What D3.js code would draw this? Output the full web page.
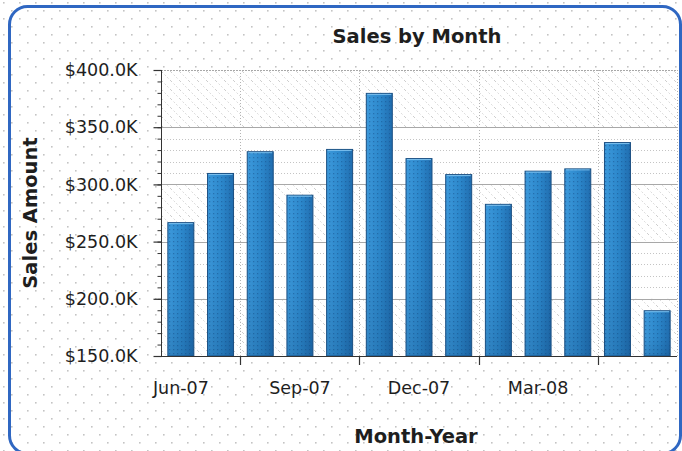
<!DOCTYPE html>
<html>
<head>
<meta charset="utf-8">
<script src="https://cdn.jsdelivr.net/npm/d3@7"></script>
<style>
  html, body { margin: 0; padding: 0; background: #fff; }
  svg { display: block; }
  text { font-family: "DejaVu Sans", Verdana, sans-serif; fill: #1e1e1e; }
</style>
</head>
<body>
<svg id="chart" width="682" height="451"></svg>
<script>
// Monthly sales, June 2007 – June 2008
const months = ["Jun-07","Jul-07","Aug-07","Sep-07","Oct-07","Nov-07","Dec-07",
                "Jan-08","Feb-08","Mar-08","Apr-08","May-08","Jun-08"];
const sales = [267000, 310000, 329000, 291000, 331000, 380000, 323000,
               309000, 283000, 312000, 314000, 337000, 190000];
const xTickLabels = ["Jun-07","Sep-07","Dec-07","Mar-08"];
const xTickMarks = ["Aug-07","Nov-07","Feb-08","May-08"];   // marks sit at the start of these months
const yMajorTicks = [150000, 200000, 250000, 300000, 350000, 400000];
const yMinorTicks = d3.range(150000, 400001, 10000);

const W = 682, H = 451;
const plot = { left: 161, right: 677, top: 70, bottom: 356 };

const svg = d3.select("#chart");
const defs = svg.append("defs");

// light dotted canvas texture
const dots = defs.append("pattern").attr("id", "bgDots")
  .attr("patternUnits", "userSpaceOnUse").attr("width", 16).attr("height", 16);
dots.append("rect").attr("x", 3).attr("y", 2).attr("width", 1.6).attr("height", 1.6).attr("fill", "#c4c4c4");
dots.append("rect").attr("x", 11).attr("y", 10).attr("width", 1.6).attr("height", 1.6).attr("fill", "#c4c4c4");

// diagonal hatch for alternating plot bands
const hatch = defs.append("pattern").attr("id", "hatch")
  .attr("patternUnits", "userSpaceOnUse").attr("width", 9).attr("height", 9);
hatch.append("path").attr("d", "M0,0 L9,9").attr("stroke", "#cdcdcd")
  .attr("stroke-width", 1).attr("stroke-dasharray", "1.4,2.4");

// bar shading
const barGrad = defs.append("linearGradient").attr("id", "barGrad")
  .attr("x1", 0).attr("x2", 1).attr("y1", 0).attr("y2", 0);
barGrad.append("stop").attr("offset", "0%").attr("stop-color", "#3d9adc");
barGrad.append("stop").attr("offset", "55%").attr("stop-color", "#2c88cc");
barGrad.append("stop").attr("offset", "100%").attr("stop-color", "#206daf");

const barShade = defs.append("linearGradient").attr("id", "barShade")
  .attr("x1", 0).attr("x2", 0).attr("y1", 0).attr("y2", 1);
barShade.append("stop").attr("offset", "0%").attr("stop-color", "#0a3a6a").attr("stop-opacity", 0);
barShade.append("stop").attr("offset", "60%").attr("stop-color", "#0a3a6a").attr("stop-opacity", 0.05);
barShade.append("stop").attr("offset", "100%").attr("stop-color", "#0a3a6a").attr("stop-opacity", 0.22);

const barDots = defs.append("pattern").attr("id", "barDots")
  .attr("patternUnits", "userSpaceOnUse").attr("width", 4).attr("height", 4);
barDots.append("rect").attr("x", 1).attr("y", 1).attr("width", 1.3).attr("height", 1.3)
  .attr("fill", "#164f8c").attr("opacity", 0.5);

// background
svg.append("rect").attr("width", W).attr("height", H).attr("fill", "#fff");
svg.append("rect").attr("width", W).attr("height", H).attr("fill", "url(#bgDots)");

// scales
const x = d3.scaleBand().domain(months).range([plot.left, plot.right])
  .paddingInner(0.32).paddingOuter(0.16);
const y = d3.scaleLinear().domain([150000, 400000]).range([plot.bottom, plot.top]);
const cellStart = m => x(m) - (x.step() - x.bandwidth()) / 2;

// plot area: alternating white and hatched bands
const bands = yMajorTicks.slice(0, -1).map((v, i) => ({ lo: v, hi: yMajorTicks[i + 1], i }));
svg.append("g").selectAll("rect").data(bands).join("rect")
  .attr("x", plot.left).attr("width", plot.right - plot.left)
  .attr("y", d => y(d.hi)).attr("height", d => y(d.lo) - y(d.hi))
  .attr("fill", "#fff");
svg.append("g").selectAll("rect").data(bands.filter(d => d.i % 2 === 0)).join("rect")
  .attr("x", plot.left).attr("width", plot.right - plot.left)
  .attr("y", d => y(d.hi)).attr("height", d => y(d.lo) - y(d.hi))
  .attr("fill", "url(#hatch)");

// minor dotted gridlines (white bands)
const whiteBands = bands.filter(d => d.i % 2 === 1);
const inWhite = v => whiteBands.some(b => v > b.lo && v < b.hi);
svg.append("g").selectAll("line").data(yMinorTicks.filter(v => !yMajorTicks.includes(v) && inWhite(v))).join("line")
  .attr("x1", plot.left).attr("x2", plot.right)
  .attr("y1", d => Math.round(y(d)) + 0.5).attr("y2", d => Math.round(y(d)) + 0.5)
  .attr("stroke", "#c4c4c4").attr("stroke-dasharray", "1,2");

// vertical dotted gridlines
svg.append("g").selectAll("line").data(xTickMarks).join("line")
  .attr("x1", d => Math.round(cellStart(d)) + 0.5).attr("x2", d => Math.round(cellStart(d)) + 0.5)
  .attr("y1", plot.top).attr("y2", plot.bottom)
  .attr("stroke", "#b4b4b4").attr("stroke-dasharray", "1,2");
svg.append("line")
  .attr("x1", plot.right + 0.5).attr("x2", plot.right + 0.5)
  .attr("y1", plot.top).attr("y2", plot.bottom)
  .attr("stroke", "#b4b4b4").attr("stroke-dasharray", "1,2");

// major gridlines
svg.append("g").selectAll("line").data(yMajorTicks.slice(1)).join("line")
  .attr("x1", plot.left).attr("x2", plot.right)
  .attr("y1", d => Math.round(y(d)) + 0.5).attr("y2", d => Math.round(y(d)) + 0.5)
  .attr("stroke", "#a8a8a8")
  .attr("stroke-dasharray", d => d === yMajorTicks[yMajorTicks.length - 1] ? "2,1" : null);

// bars
const bars = svg.append("g");
const barData = months.map((m, i) => ({ m, v: sales[i] }));
bars.selectAll("rect.base").data(barData).join("rect").attr("class", "base")
  .attr("x", d => x(d.m) + 0.5).attr("width", x.bandwidth() - 1)
  .attr("y", d => y(d.v) + 0.5).attr("height", d => y(150000) - y(d.v) - 0.5)
  .attr("fill", "url(#barGrad)");
bars.selectAll("rect.dots").data(barData).join("rect").attr("class", "dots")
  .attr("x", d => x(d.m) + 0.5).attr("width", x.bandwidth() - 1)
  .attr("y", d => y(d.v) + 0.5).attr("height", d => y(150000) - y(d.v) - 0.5)
  .attr("fill", "url(#barDots)");
bars.selectAll("rect.shade").data(barData).join("rect").attr("class", "shade")
  .attr("x", d => x(d.m) + 0.5).attr("width", x.bandwidth() - 1)
  .attr("y", d => y(d.v) + 0.5).attr("height", d => y(150000) - y(d.v) - 0.5)
  .attr("fill", "url(#barShade)")
  .attr("stroke", "#1b4f82").attr("stroke-width", 1);
bars.selectAll("line.hi").data(barData).join("line").attr("class", "hi")
  .attr("x1", d => x(d.m) + 1.5).attr("x2", d => x(d.m) + x.bandwidth() - 1.5)
  .attr("y1", d => y(d.v) + 1.5).attr("y2", d => y(d.v) + 1.5)
  .attr("stroke", "#7cc0ee").attr("stroke-width", 1);

// y axis
const yMinorAxis = d3.axisLeft(y).tickValues(yMinorTicks).tickSize(4).tickFormat("");
const yAxis = d3.axisLeft(y).tickValues(yMajorTicks).tickSize(8).tickPadding(16)
  .tickFormat(d => "$" + d3.format(".1f")(d / 1000) + "K");
svg.append("g").attr("transform", `translate(${plot.left + 0.5},0)`).call(yMinorAxis)
  .call(g => g.select(".domain").remove())
  .call(g => g.selectAll("line").attr("stroke", "#333"));
svg.append("g").attr("transform", `translate(${plot.left + 0.5},0)`).call(yAxis)
  .call(g => g.select(".domain").attr("stroke", "#333").attr("d", `M0,${plot.top}V${plot.bottom}`))
  .call(g => g.selectAll("line").attr("stroke", "#333").attr("stroke-width", 1.2))
  .call(g => g.selectAll("text").attr("font-size", 17.5).attr("font-family", "DejaVu Sans").attr("fill", "#1e1e1e"));

// x axis
const xAxis = d3.axisBottom(x).tickValues(xTickLabels).tickSize(0).tickPadding(25);
svg.append("g").attr("transform", `translate(0,${plot.bottom + 0.5})`).call(xAxis)
  .call(g => g.select(".domain").attr("stroke", "#333").attr("d", `M${plot.left},0H${plot.right}`))
  .call(g => g.selectAll("text").attr("font-size", 17.5).attr("font-family", "DejaVu Sans").attr("fill", "#1e1e1e"));
svg.append("g").selectAll("line").data(xTickMarks).join("line")
  .attr("x1", d => Math.round(cellStart(d)) + 0.5).attr("x2", d => Math.round(cellStart(d)) + 0.5)
  .attr("y1", plot.bottom).attr("y2", plot.bottom + 9)
  .attr("stroke", "#333").attr("stroke-width", 1.2);

// titles
svg.append("text").attr("x", 417).attr("y", 43).attr("text-anchor", "middle")
  .attr("font-size", 19.5).attr("font-weight", "bold").text("Sales by Month");
svg.append("text").attr("x", 416).attr("y", 443).attr("text-anchor", "middle")
  .attr("font-size", 19.5).attr("font-weight", "bold").text("Month-Year");
svg.append("text").attr("transform", "translate(37,213) rotate(-90)").attr("text-anchor", "middle")
  .attr("font-size", 19.5).attr("font-weight", "bold").text("Sales Amount");

// rounded frame
svg.append("rect").attr("x", 9.5).attr("y", 6.5).attr("width", 671).attr("height", 447)
  .attr("rx", 18).attr("fill", "none").attr("stroke", "#2f67c2").attr("stroke-width", 3);
</script>
</body>
</html>
